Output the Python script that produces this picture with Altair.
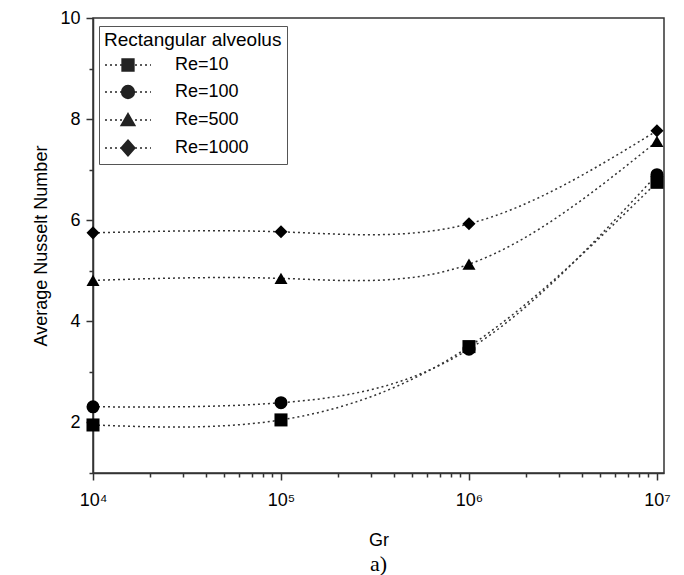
import math
import altair as alt
import pandas as pd

# ---- data ----
gr = [10000, 100000, 1000000, 10000000]
series = ["Re=10", "Re=100", "Re=500", "Re=1000"]
re10 = [1.95, 2.05, 3.50, 6.75]
re100 = [2.31, 2.39, 3.45, 6.90]
re500 = [4.81, 4.85, 5.13, 7.56]
re1000 = [5.75, 5.77, 5.93, 7.77]
legend_title = "Rectangular alveolus"
x_title = "Gr"
y_title = "Average Nusselt Number"
caption = "a)"

x_ticks = [m * 10 ** e for e in (4, 5, 6) for m in range(1, 10)] + [10000000]
y_ticks = list(range(1, 11))

rows = []
for name, vals in zip(series, [re10, re100, re500, re1000]):
    for g, v in zip(gr, vals):
        rows.append({"Gr": g, "Nu": v, "series": name})
df = pd.DataFrame(rows)

FONT = "Liberation Sans"
AX = "#333333"

x_enc = alt.X(
    "Gr:Q",
    scale=alt.Scale(type="log", domain=[10000, 10900000], nice=False),
    axis=alt.Axis(
        values=x_ticks,
        labelExpr="datum.value==10000?'10⁴':datum.value==100000?'10⁵':datum.value==1000000?'10⁶':datum.value==10000000?'10⁷':''",
        tickSize={"condition": {"test": "indexof([10000,100000,1000000,10000000], datum.value) >= 0", "value": 7}, "value": 4},
        labelOverlap=False,
        labelFlush=False,
        grid=False,
        title=x_title,
        titlePadding=22,
        labelPadding=11,
    ),
)
y_enc = alt.Y(
    "Nu:Q",
    scale=alt.Scale(domain=[1, 10], nice=False, zero=False),
    axis=alt.Axis(
        values=y_ticks,
        labelExpr="datum.value % 2 == 0 ? datum.label : ''",
        tickSize={"condition": {"test": "datum.value % 2 == 0", "value": 7}, "value": 4},
        labelOverlap=False,
        labelFlush=False,
        grid=False,
        title=y_title,
        titlePadding=9,
        labelPadding=6,
    ),
)

base = alt.Chart(df)

lines = base.mark_line(
    interpolate="natural", strokeDash=[2, 3], strokeWidth=1.5, color="#333333"
).encode(x=x_enc, y=y_enc, detail="series:N")

points = base.mark_point(filled=True, size=170, color="black", opacity=1).encode(
    x=x_enc,
    y=y_enc,
    shape=alt.Shape(
        "series:N",
        scale=alt.Scale(domain=series, range=["square", "circle", "triangle-up", "diamond"]),
        legend=None,
    ),
)

# ---- legend glyphs: dotted line + solid marker, in symbol unit coordinates ----
L = 3.25
dots = ""
p = -L
while p < L:
    dots += f"M{p:.3f},0L{min(p + 0.28, L):.3f},0"
    p += 0.707


def hatch(y0, y1, half_width, outline):
    s = outline
    y = y0
    while y <= y1 + 1e-9:
        w = half_width(y)
        if w > 0:
            s += f"M{-w:.3f},{y:.3f}L{w:.3f},{y:.3f}"
        y += 0.1
    return s


paths = [
    hatch(-0.78, 0.78, lambda y: 0.78, dots + "M-0.85,-0.85L0.85,-0.85L0.85,0.85L-0.85,0.85Z"),
    hatch(-0.85, 0.85, lambda y: math.sqrt(max(0.0, 0.85 ** 2 - y * y)),
          dots + "M0.92,0A0.92,0.92,0,1,1,-0.92,0A0.92,0.92,0,1,1,0.92,0Z"),
    hatch(-0.85, 0.75, lambda y: (y + 0.95) / 1.75 * 0.95, dots + "M0,-0.95L1.0,0.8L-1.0,0.8Z"),
    hatch(-1.05, 1.05, lambda y: 0.95 * (1 - abs(y) / 1.15), dots + "M0,-1.15L1.0,0L0,1.15L-1.0,0Z"),
]

legend_layer = base.mark_point(
    filled=False, size=200, color="#222222", strokeWidth=1.3, opacity=0,
).encode(
    x=x_enc,
    y=y_enc,
    shape=alt.Shape(
        "series:N",
        scale=alt.Scale(domain=series, range=paths),
        legend=alt.Legend(
            title=legend_title,
            orient="none",
            legendX=6,
            legendY=8,
            direction="vertical",
            titleFont=FONT,
            titleFontSize=19,
            titleFontWeight="normal",
            titleColor="black",
            titleLimit=400,
            titlePadding=6,
            labelFont=FONT,
            labelFontSize=18,
            labelColor="black",
            symbolSize=200,
            symbolOffset=15,
            labelOffset=38,
            padding=5,
            rowPadding=8,
            strokeColor="#555555",
            fillColor="white",
            symbolFillColor="black",
            symbolStrokeColor="#222222",
            symbolStrokeWidth=1.3,
            symbolOpacity=1,
        ),
    ),
)

chart = (
    alt.layer(lines, legend_layer, points)
    .resolve_scale(shape="independent")
    .properties(
        width=571,
        height=455,
        background="white",
        autosize=alt.AutoSizeParams(type="none"),
        padding={"left": 93, "top": 18, "right": 20, "bottom": 102},
        title=alt.TitleParams(
            caption, orient="bottom", font="Liberation Serif", fontSize=22,
            fontWeight="normal", color="black", anchor="middle", offset=5,
        ),
    )
    .configure_view(stroke=AX, strokeWidth=1.5)
    .configure_axis(
        domainColor=AX, domainWidth=1.5, tickColor=AX, tickWidth=1.5,
        labelFont=FONT, labelFontSize=18, labelColor="black",
        titleFont=FONT, titleFontSize=18, titleFontWeight="normal", titleColor="black",
    )
)

chart.save("out.html", embed_options={"renderer": "svg", "actions": False})
